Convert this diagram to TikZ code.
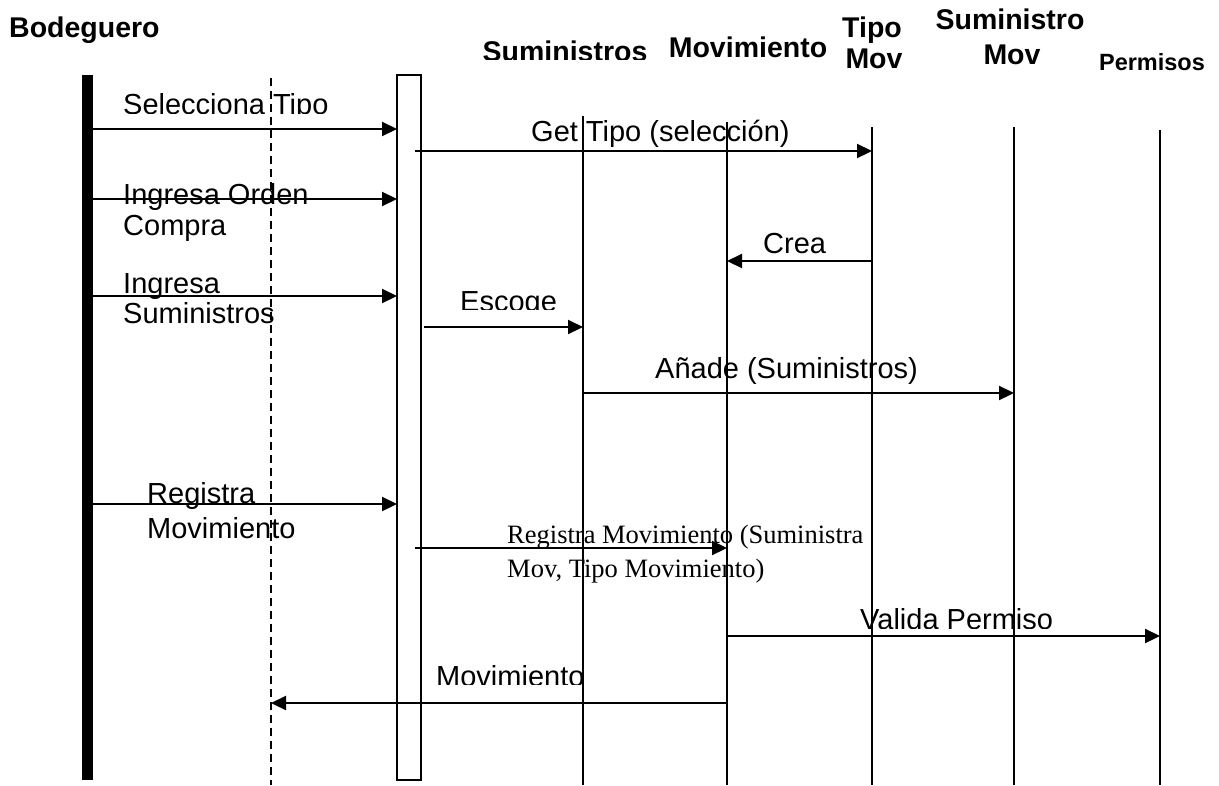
\documentclass[tikz,border=0pt]{standalone}
\usepackage{fontspec}
\setmainfont{Liberation Sans}
\newfontfamily\serifface{Liberation Serif}
\usetikzlibrary{arrows.meta}
\begin{document}
\begin{tikzpicture}[x=1pt,y=-1pt,
  msg/.style={line width=2.2pt,-{Triangle[length=15pt,width=14pt]}},
  life/.style={line width=1.5pt},
  lbl/.style={anchor=base west,inner sep=0pt,font=\fontsize{29}{31}\selectfont},
  slbl/.style={anchor=base west,inner sep=0pt,font=\serifface\fontsize{26.5}{28}\selectfont},
  hdr/.style={anchor=base,inner sep=0pt,font=\bfseries\fontsize{28.5}{30}\selectfont}]
\useasboundingbox (0,0) rectangle (1219,785);
% headers
\node[hdr,anchor=base west,font=\bfseries\fontsize{28.5}{30}\selectfont] (hBod) at (9,37) {Bodeguero};
\begin{scope}
\clip (470,30) rectangle (670,59);
\node[hdr] (hSum) at (565,61) {Suministros};
\end{scope}
\node[hdr] (hMov) at (748,57) {Movimiento};
\node[hdr] (hTipo1) at (872,37) {Tipo};
\node[hdr] (hTipo2) at (874,68) {Mov};
\node[hdr] (hSM1) at (1010,29) {Suministro};
\node[hdr] (hSM2) at (1012,64) {Mov};
\node[hdr,font=\bfseries\fontsize{23.5}{26}\selectfont] (hPer) at (1152,70) {Permisos};
% actor bar and activation box
\node[fill=black,minimum width=11pt,minimum height=705pt,inner sep=0pt] (bar) at (87.5,427.5) {};
\node[draw,line width=1.5pt,minimum width=24pt,minimum height=705pt,inner sep=0pt] (act) at (409,427.5) {};
% lifelines
\coordinate (dTop) at (271,78); \coordinate (dBot) at (271,785);
\draw[life,dash pattern=on 8pt off 5pt] (dTop) -- (dBot);
\coordinate (sTop) at (583,116); \coordinate (sBot) at (583,785);
\coordinate (mTop) at (727,122); \coordinate (mBot) at (727,785);
\coordinate (tTop) at (872,127); \coordinate (tBot) at (872,785);
\coordinate (smTop) at (1014,127); \coordinate (smBot) at (1014,785);
\coordinate (pTop) at (1160,130); \coordinate (pBot) at (1160,785);
\draw[life] (sTop) -- (sBot);
\draw[life] (mTop) -- (mBot);
\draw[life] (tTop) -- (tBot);
\draw[life] (smTop) -- (smBot);
\draw[life] (pTop) -- (pBot);
% message end points
\coordinate (m1a) at (93,129); \coordinate (m1b) at (397,129);
\coordinate (m2a) at (415,151); \coordinate (m2b) at (872,151);
\coordinate (m3a) at (93,199); \coordinate (m3b) at (397,199);
\coordinate (m4a) at (872,261); \coordinate (m4b) at (727,261);
\coordinate (m5a) at (93,296); \coordinate (m5b) at (397,296);
\coordinate (m6a) at (424,327); \coordinate (m6b) at (583,327);
\coordinate (m7a) at (583,393); \coordinate (m7b) at (1014,393);
\coordinate (m8a) at (93,504); \coordinate (m8b) at (397,504);
\coordinate (m9a) at (415,548); \coordinate (m9b) at (727,548);
\coordinate (m10a) at (727,636); \coordinate (m10b) at (1160,636);
\coordinate (m11a) at (727,703); \coordinate (m11b) at (271,703);
\draw[msg] (m1a) -- (m1b);
\draw[msg] (m2a) -- (m2b);
\draw[msg] (m3a) -- (m3b);
\draw[msg] (m4a) -- (m4b);
\draw[msg] (m5a) -- (m5b);
\draw[msg] (m6a) -- (m6b);
\draw[msg] (m7a) -- (m7b);
\draw[msg] (m8a) -- (m8b);
\draw[msg] (m9a) -- (m9b);
\draw[msg] (m10a) -- (m10b);
\draw[msg] (m11a) -- (m11b);
% labels
\begin{scope}
\clip (110,80) rectangle (360,113);
\node[lbl] (l1) at (123,114) {Selecciona Tipo};
\end{scope}
\node[lbl] (l2) at (531,141) {Get Tipo (selección)};
\node[lbl] (l3a) at (123,204) {Ingresa Orden};
\node[lbl] (l3b) at (123,235) {Compra};
\node[lbl] (l4) at (763,253) {Crea};
\node[lbl] (l5a) at (123,293) {Ingresa};
\node[lbl] (l5b) at (123,323) {Suministros};
\begin{scope}
\clip (440,280) rectangle (600,309);
\node[lbl] (l6) at (460,311) {Escoge};
\end{scope}
\node[lbl] (l7) at (655,378) {Añade (Suministros)};
\node[lbl] (l8a) at (147,503) {Registra};
\node[lbl] (l8b) at (147,538) {Movimiento};
\node[slbl] (l9a) at (507,543) {Registra Movimiento (Suministra};
\node[slbl] (l9b) at (507,577) {Mov, Tipo Movimiento)};
\begin{scope}
\clip (840,600) rectangle (1100,628);
\node[lbl] (l10) at (860,629) {Valida Permiso};
\end{scope}
\begin{scope}
\clip (420,655) rectangle (620,684);
\node[lbl] (l11) at (436,686) {Movimiento};
\end{scope}
\end{tikzpicture}
\end{document}
